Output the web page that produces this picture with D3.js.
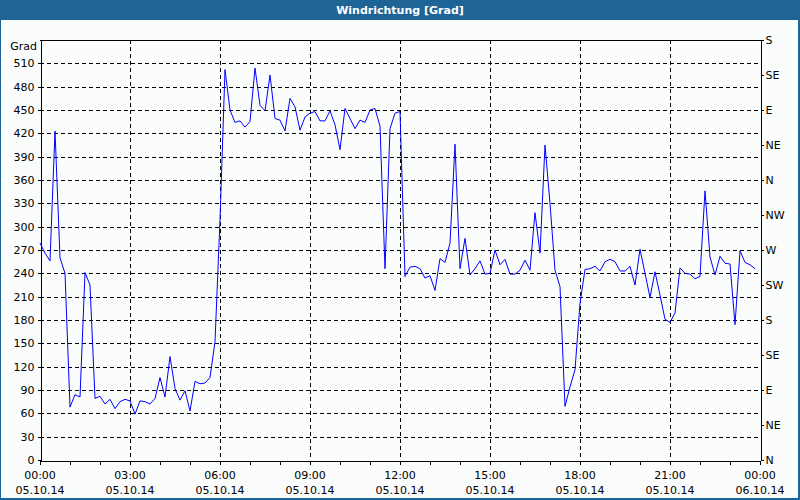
<!DOCTYPE html>
<html><head><meta charset="utf-8">
<script src="https://cdn.jsdelivr.net/npm/d3@7"></script>
<style>
html,body{margin:0;padding:0;background:#fff;}
svg{display:block;}
text{font-family:"DejaVu Sans","Liberation Sans",sans-serif;}
</style></head>
<body>
<svg id="chart" width="800" height="500"></svg>
<script>
const title = "Windrichtung [Grad]";
const yUnit = "Grad";
const stepMinutes = 10;
const windDir = [
279,266,256,423,260,240,68,84,81,241,225,79,82,72,78,66,75,78,76,59,76,75,72,79,106,81,133,92,77,89,63,101,98,99,106,152,
309,502,450,434,436,428,435,504,456,449,495,439,437,423,465,454,424,441,446,448,436,436,449,431,399,452,439,426,437,434,450,452,429,246,426,446,
448,236,248,249,246,234,237,218,259,254,279,406,246,285,238,246,256,239,240,270,251,258,239,239,244,257,244,318,266,405,330,244,223,69,94,116,
201,245,246,249,243,255,258,255,243,243,249,225,271,240,209,242,212,181,177,189,247,240,239,233,236,346,261,238,262,253,252,174,269,254,251,246
];
const yTicks = [0,30,60,90,120,150,180,210,240,270,300,330,360,390,420,450,480,510];
const compassTicks = [0,45,90,135,180,225,270,315,360,405,450,495,540];
const compassLabels = ["N","NE","E","SE","S","SW","W","NW","N","NE","E","SE","S"];
const xTickHours = [0,3,6,9,12,15,18,21,24];
const xTimeLabels = ["00:00","03:00","06:00","09:00","12:00","15:00","18:00","21:00","00:00"];
const xDateLabels = ["05.10.14","05.10.14","05.10.14","05.10.14","05.10.14","05.10.14","05.10.14","05.10.14","06.10.14"];

const svg = d3.select("#chart");
const W = 800, H = 500;
const m = {left:40, right:760, top:40, bottom:460};
const blue = "#1e6496";

svg.append("rect").attr("x",0).attr("y",0).attr("width",W).attr("height",H).attr("fill",blue);
svg.append("rect").attr("x",1).attr("y",20).attr("width",W-3).attr("height",H-22).attr("fill","#fafdfb");
svg.append("text").attr("x",W/2).attr("y",14).attr("text-anchor","middle")
  .attr("fill","#fff").attr("font-size","11px").attr("font-weight","bold").text(title);

const x = d3.scaleLinear().domain([0,24]).range([m.left,m.right]);
const y = d3.scaleLinear().domain([0,540]).range([m.bottom,m.top]);

// grid
const g = svg.append("g");
g.selectAll(".hg").data(yTicks.filter(d=>d>0)).join("line")
  .attr("x1",m.left).attr("x2",m.right)
  .attr("y1",d=>Math.round(y(d))+0.5).attr("y2",d=>Math.round(y(d))+0.5)
  .attr("stroke","#000").attr("stroke-dasharray","4,3").attr("shape-rendering","crispEdges");
g.selectAll(".vg").data(xTickHours.filter(d=>d>0&&d<24)).join("line")
  .attr("y1",m.top).attr("y2",m.bottom)
  .attr("x1",d=>Math.round(x(d))+0.5).attr("x2",d=>Math.round(x(d))+0.5)
  .attr("stroke","#000").attr("stroke-dasharray","4,3").attr("shape-rendering","crispEdges");

// axes
const fontSize = "11px";
const leftAxis = d3.axisLeft(y).tickValues(yTicks).tickSize(3).tickSizeOuter(0).tickPadding(3);
const la = svg.append("g").attr("transform",`translate(${m.left+0.5},0)`).call(leftAxis);
const rightAxis = d3.axisRight(y).tickValues(compassTicks).tickSize(3).tickSizeOuter(0).tickPadding(2)
  .tickFormat((d,i)=>compassLabels[i]);
const ra = svg.append("g").attr("transform",`translate(${m.right+0.5},0)`).call(rightAxis);
const hours = d3.range(0,25);
const bottomAxis = d3.axisBottom(x).tickValues(hours).tickSize(4).tickSizeOuter(0).tickFormat("");
const ba = svg.append("g").attr("transform",`translate(0,${m.bottom+0.5})`).call(bottomAxis);
[la,ra,ba].forEach(a=>{
  a.selectAll("path,line").attr("stroke","#000").attr("shape-rendering","crispEdges");
  a.selectAll("text").attr("fill","#000").attr("font-size",fontSize)
   .attr("font-family","'DejaVu Sans','Liberation Sans',sans-serif");
});
svg.append("line").attr("x1",m.left).attr("x2",m.right+1).attr("y1",m.top+0.5).attr("y2",m.top+0.5)
  .attr("stroke","#000").attr("shape-rendering","crispEdges");

// x labels
const xl = svg.append("g");
xl.selectAll(".t1").data(xTickHours).join("text")
  .attr("x",d=>x(d)).attr("y",479).attr("text-anchor","middle")
  .attr("font-size",fontSize).attr("fill","#000").text((d,i)=>xTimeLabels[i]);
xl.selectAll(".t2").data(xTickHours).join("text")
  .attr("x",d=>x(d)).attr("y",494).attr("text-anchor","middle")
  .attr("font-size",fontSize).attr("fill","#000").text((d,i)=>xDateLabels[i]);

svg.append("text").attr("x",37).attr("y",50).attr("text-anchor","end")
  .attr("font-size",fontSize).attr("fill","#000").text(yUnit);

// line
const line = d3.line().x((d,i)=>x(i*stepMinutes/60)).y(d=>y(d));
svg.append("path").datum(windDir).attr("d",line)
  .attr("fill","none").attr("stroke","#0000ff").attr("stroke-width",1);
</script>
</body></html>
